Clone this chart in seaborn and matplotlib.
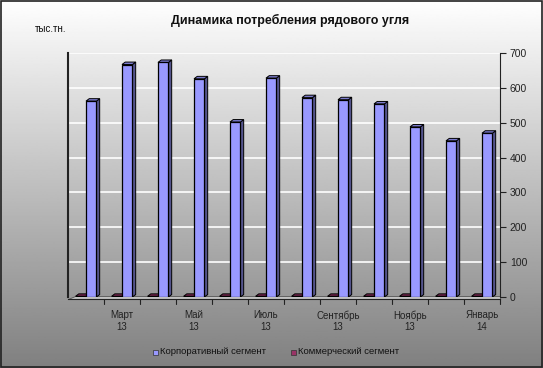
import numpy as np
import pandas as pd
import matplotlib
matplotlib.use('Agg')
import matplotlib.pyplot as plt
import seaborn as sns
from matplotlib.patches import Polygon, Rectangle

# data
months = ['Февраль\n13', 'Март\n13', 'Апрель\n13', 'Май\n13', 'Июнь\n13', 'Июль\n13',
          'Август\n13', 'Сентябрь\n13', 'Октябрь\n13', 'Ноябрь\n13', 'Декабрь\n13', 'Январь\n14']
corporate = [562, 667, 673, 626, 502, 628, 572, 566, 554, 488, 448, 470]
commercial = [2, 2, 2, 2, 2, 2, 2, 2, 2, 2, 2, 2]
series_names = ['Коммерческий сегмент', 'Корпоративный сегмент']
yticks = [0, 100, 200, 300, 400, 500, 600, 700]

df = pd.DataFrame({
    'month': months * 2,
    'value': commercial + corporate,
    'segment': [series_names[0]] * 12 + [series_names[1]] * 12,
})

sns.set_style('white')
plt.rcParams['font.family'] = ['Arial', 'Liberation Sans', 'DejaVu Sans']

fig = plt.figure(figsize=(5.43, 3.68), dpi=100)

# gradient background over whole figure
bg = fig.add_axes([0, 0, 1, 1], zorder=-10)
grad = np.linspace(0.5, 1.0, 256).reshape(-1, 1)
bg.imshow(grad, aspect='auto', cmap='gray', vmin=0, vmax=1, extent=[0, 1, 0, 1])
bg.set_xlim(0, 1)
bg.set_ylim(1, 0)
bg.axis('off')
bg.add_patch(Rectangle((0.001, 0.002), 0.997, 0.995, fill=False, edgecolor='#222222',
                       linewidth=1.2, transform=bg.transAxes))

ax = fig.add_axes([68 / 543, 1 - 297 / 368, 432 / 543, 244 / 368])
ax.patch.set_alpha(0)

palette = {series_names[0]: '#993366', series_names[1]: '#9999FF'}
sns.barplot(data=df, x='month', y='value', hue='segment', hue_order=series_names,
            palette=palette, width=0.58, ax=ax, edgecolor='black', linewidth=0.9,
            saturation=1, legend=False, zorder=3)

ax.set_ylim(0, 700)
ax.set_xlim(-0.5, 11.5)

# 3D-ish side and top faces derived from drawn bars
dx, dy = 0.09, 7
for p in list(ax.patches):
    x0, w, h = p.get_x(), p.get_width(), p.get_height()
    fc = p.get_facecolor()
    dark = tuple(c * 0.55 for c in fc[:3])
    side = Polygon([[x0 + w, 0], [x0 + w + dx, dy], [x0 + w + dx, h + dy], [x0 + w, h]],
                   closed=True, facecolor=dark, edgecolor='black', linewidth=0.7, zorder=2.9)
    top = Polygon([[x0, h], [x0 + dx, h + dy], [x0 + w + dx, h + dy], [x0 + w, h]],
                  closed=True, facecolor=tuple(c * 0.8 for c in fc[:3]), edgecolor='black',
                  linewidth=0.7, zorder=2.9)
    ax.add_patch(side)
    ax.add_patch(top)

# gridlines
for t in yticks[1:]:
    ax.axhline(t, color='white', linewidth=1.2, zorder=1)

# floor
ax.add_patch(Polygon([[-0.5, -6], [11.5, -6], [11.5, 3], [-0.3, 3]], closed=True,
                     facecolor='#c0c0c0', edgecolor='#555555', linewidth=0.6,
                     zorder=1.5, clip_on=False))

ax.yaxis.tick_right()
ax.set_yticks(yticks)
ax.set_yticklabels([str(t) for t in yticks])
ax.tick_params(axis='y', direction='out', length=4, width=0.8, pad=3, colors='#222222',
               labelsize=7.5)

ax.set_xticks(range(1, 12, 2))
ax.set_xticklabels([months[i] for i in range(1, 12, 2)], linespacing=1.0)
ax.tick_params(axis='x', length=0, pad=8, labelsize=7, labelcolor='#222222')
for i in range(12):
    ax.plot([i + 0.5, i + 0.5], [-6, -20], color='#222222', linewidth=0.8,
            clip_on=False, zorder=4)

ax.set_xlabel('')
ax.set_ylabel('')
ax.spines['top'].set_visible(False)
ax.spines['bottom'].set_position(('data', -6))
ax.spines['bottom'].set_color('#222222')
ax.spines['right'].set_color('#222222')
ax.spines['left'].set_color('#222222')
ax.spines['left'].set_linewidth(1.5)

fig.text(290 / 543, 1 - 20 / 368, 'Динамика потребления рядового угля', ha='center',
         va='center', fontsize=9, fontweight='bold', color='#111111')
fig.text(35 / 543, 1 - 29 / 368, 'тыс.тн.', ha='left', va='center', fontsize=7,
         color='#111111')

# legend
lx, ly = 153 / 543, 1 - 352 / 368
fig.patches.append(Rectangle((lx, ly - 0.008), 0.009, 0.014, facecolor='#9999FF',
                             edgecolor='#333333', linewidth=0.5, transform=fig.transFigure))
fig.text(lx + 0.012, ly, 'Корпоративный сегмент', fontsize=6.8, va='center', color='#111111')
lx2 = 291 / 543
fig.patches.append(Rectangle((lx2, ly - 0.008), 0.009, 0.014, facecolor='#993366',
                             edgecolor='#333333', linewidth=0.5, transform=fig.transFigure))
fig.text(lx2 + 0.012, ly, 'Коммерческий сегмент', fontsize=6.8, va='center', color='#111111')

fig.savefig('out.png', dpi=100)
